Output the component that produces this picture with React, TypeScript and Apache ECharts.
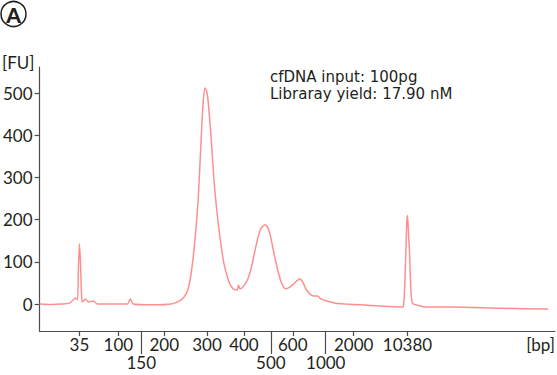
import React, { useEffect, useRef } from "react";
import * as echarts from "echarts";

// Ladder: migration time (s) of each size marker on the x axis
const ladderBp = [35, 100, 150, 200, 300, 400, 500, 600, 1000, 2000, 10380];
const ladderTime = [45.96, 51.77, 55.19, 58.62, 65.02, 70.53, 74.55, 77.83, 82.75, 86.92, 94.96];
// Upper label row (short ticks) and lower label row (long ticks)
const upperRowBp = [35, 100, 200, 300, 400, 600, 2000, 10380];
const lowerRowBp = [150, 500, 1000];

// Electropherogram trace: migration time (s) and fluorescence (FU)
const traceTime = [
  40.0, 41.79, 43.28, 44.47, 45.06, 45.36, 45.66, 45.81, 45.96, 46.11, 46.26, 46.4, 46.85,
  47.3, 48.04, 48.64, 50.72, 53.11, 53.55, 54.0, 56.68, 59.66, 61.15, 61.89, 62.34, 62.79,
  63.23, 63.68, 64.13, 64.43, 64.72, 64.95, 65.17, 65.62, 66.06, 66.51, 66.96, 67.55, 68.3,
  68.89, 69.49, 69.71, 69.94, 70.53, 71.13, 71.58, 72.17, 72.62, 73.07, 73.66, 74.11, 74.55,
  75.0, 75.6, 76.19, 76.79, 77.38, 77.98, 78.43, 78.87, 79.32, 79.77, 80.36, 80.96, 81.55,
  82.0, 82.89, 84.24, 85.73, 87.96, 90.94, 93.92, 94.36, 94.66, 94.85, 94.96, 95.11, 95.26,
  95.48, 95.7, 96.3, 97.64, 101.36, 108.81, 115.96,
];
const traceFU = [
  0, -1, 0, 2, 10, 14, 10, 90, 143, 98, 24, 5, 12,
  5, 7, 0, 0, 0, 12, 0, -2, 0, 10, 24, 45, 90,
  155, 245, 388, 476, 512, 505, 483, 395, 293, 217, 157, 95, 52,
  36, 33, 45, 36, 43, 60, 83, 126, 157, 179, 188, 181, 157,
  121, 79, 48, 36, 40, 48, 55, 60, 52, 36, 24, 19, 19,
  12, 7, 2, 0, -2, -5, -7, -5, 90, 193, 210, 169, 126,
  31, 2, -2, -7, -7, -10, -12,
];
const yTicks = [0, 100, 200, 300, 400, 500];
const noteLines = ["cfDNA input: 100pg", "Libraray yield: 17.90 nM"];

const FONT = "Lato";
const NOTE_FONT = "DejaVu Sans";
const TEXT = "#231f20";
const AXIS = "#4d4d4d";

const timeOf = (bp: number) => ladderTime[ladderBp.indexOf(bp)];
const bpOf = (t: number) => {
  let best = 0;
  let d = Infinity;
  ladderTime.forEach((lt, i) => {
    if (Math.abs(lt - t) < d) {
      d = Math.abs(lt - t);
      best = i;
    }
  });
  return String(ladderBp[best]);
};

export default function App() {
  const ref = useRef<HTMLDivElement>(null);
  useEffect(() => {
    document.body.style.margin = "0";
    if (!ref.current) return;
    const chart = echarts.init(ref.current, null, { renderer: "svg" });
    const upper = upperRowBp.map(timeOf);
    const lower = lowerRowBp.map(timeOf);
    chart.setOption({
      animation: false,
      backgroundColor: "#ffffff",
      grid: { left: 38, right: 2, top: 67, bottom: 44, containLabel: false },
      xAxis: [
        {
          type: "value",
          min: 40,
          max: 117,
          position: "bottom",
          splitLine: { show: false },
          axisLine: { show: true, onZero: false, lineStyle: { color: AXIS, width: 1.2 } },
          axisTick: { show: true, length: 5, customValues: upper, lineStyle: { color: AXIS, width: 1.2 } },
          axisLabel: {
            customValues: upper,
            formatter: (v: number) => bpOf(v),
            color: TEXT,
            fontFamily: FONT,
            fontSize: 17,
            margin: 5,
          },
        },
        {
          type: "value",
          min: 40,
          max: 117,
          position: "bottom",
          splitLine: { show: false },
          axisLine: { show: false, onZero: false },
          axisTick: { show: true, length: 23, customValues: lower, lineStyle: { color: AXIS, width: 1.2 } },
          axisLabel: {
            customValues: lower,
            formatter: (v: number) => bpOf(v),
            color: TEXT,
            fontFamily: FONT,
            fontSize: 17,
            margin: 23,
          },
        },
      ],
      yAxis: {
        type: "value",
        min: -64,
        max: 562,
        splitLine: { show: false },
        axisLine: { show: true, onZero: false, lineStyle: { color: AXIS, width: 1.2 } },
        axisTick: { show: true, length: 5, customValues: yTicks, lineStyle: { color: AXIS, width: 1.2 } },
        axisLabel: {
          customValues: yTicks,
          color: TEXT,
          fontFamily: FONT,
          fontSize: 17,
          margin: 7,
        },
      },
      series: [
        {
          type: "line",
          xAxisIndex: 0,
          data: traceTime.map((t, i) => [t, traceFU[i]]),
          showSymbol: false,
          smooth: 0.25,
          lineStyle: { color: "#ff8f8f", width: 1.5 },
        },
      ],
      graphic: [
        {
          type: "circle",
          shape: { cx: 13.5, cy: 14, r: 12.5 },
          style: { fill: "none", stroke: TEXT, lineWidth: 1.5 },
        },
        {
          type: "text",
          x: 13.5,
          y: 14.5,
          style: {
            text: "A",
            fontFamily: FONT,
            fontWeight: 900,
            fontSize: 21,
            fill: TEXT,
            align: "center",
            verticalAlign: "middle",
          },
        },
        {
          type: "text",
          x: 2,
          y: 62,
          style: { text: "[FU]", fontFamily: FONT, fontSize: 17, fill: TEXT, verticalAlign: "middle" },
        },
        {
          type: "text",
          x: 555,
          y: 344,
          style: { text: "[bp]", fontFamily: FONT, fontSize: 17, fill: TEXT, align: "right", verticalAlign: "middle" },
        },
        ...noteLines.map((line, i) => ({
          type: "text",
          x: 270,
          y: 76.5 + i * 17,
          style: {
            text: line,
            fontFamily: NOTE_FONT,
            fontSize: 15,
            fill: TEXT,
            verticalAlign: "middle",
          },
        })),
      ],
    });
    return () => chart.dispose();
  }, []);
  return <div ref={ref} style={{ width: 557, height: 375 }} />;
}
